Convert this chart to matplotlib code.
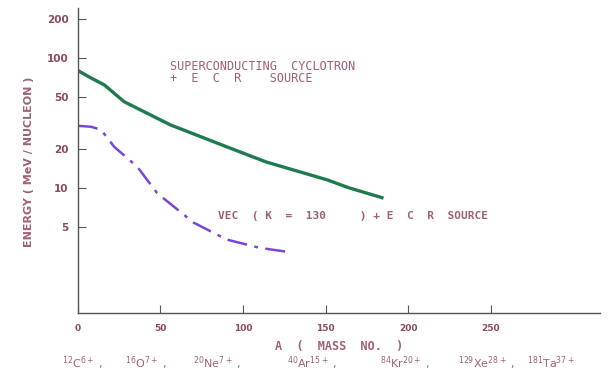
import matplotlib
matplotlib.use('Agg')
import matplotlib.pyplot as plt
from matplotlib.ticker import FixedLocator, NullLocator

# Superconducting cyclotron + ECR source
sc_mass = [0, 8, 16, 28, 56, 90, 114, 151, 164, 184]
sc_energy = [80, 70, 62, 46, 30.5, 20.7, 15.8, 11.5, 10.0, 8.4]

# VEC (K = 130) + ECR source
vec_mass = [0, 8, 14, 22, 36, 48, 70, 90, 110, 128]
vec_energy = [30, 29.5, 28, 20.7, 14.5, 9.1, 5.4, 4.0, 3.45, 3.2]

x_ticks = [0, 50, 100, 150, 200, 250]
y_ticks = [5, 10, 20, 50, 100, 200]

# ions shown under the axis
ions = [r'$^{12}$C$^{6+}$', r'$^{16}$O$^{7+}$', r'$^{20}$Ne$^{7+}$',
        r'$^{40}$Ar$^{15+}$', r'$^{84}$Kr$^{20+}$', r'$^{129}$Xe$^{28+}$',
        r'$^{181}$Ta$^{37+}$']
ion_x = [62, 125, 193, 287, 380, 458, 527]   # pixel start of each label

text_col = '#a0607a'
tick_col = '#8a4a62'
W, H = 608, 382

fig = plt.figure(figsize=(W / 100, H / 100), dpi=100)
ax = fig.add_axes([0.128, 0.181, 0.859, 0.798])

ax.plot(sc_mass, sc_energy, color='#1f7a4d', linewidth=2.4)
ax.plot(vec_mass, vec_energy, color='#7b45d6', linewidth=1.8,
        linestyle=(0, (8, 3, 1.5, 3)))

ax.set_yscale('log')
ax.set_xlim(0, 316)
ax.set_ylim(1.09, 242)
ax.yaxis.set_major_locator(FixedLocator(y_ticks))
ax.yaxis.set_minor_locator(NullLocator())
ax.set_yticklabels([str(v) for v in y_ticks])
ax.set_xticks(x_ticks)

for s in ['top', 'right']:
    ax.spines[s].set_visible(False)
for s in ['left', 'bottom']:
    ax.spines[s].set_color('#555555')
    ax.spines[s].set_linewidth(1.0)

ax.tick_params(axis='both', direction='in', length=6, color='#555555',
               labelcolor=tick_col)
ax.tick_params(axis='x', pad=8, labelsize=6.5)
ax.tick_params(axis='y', pad=6.5, labelsize=7.5)
for lab in ax.get_xticklabels() + ax.get_yticklabels():
    lab.set_fontweight('bold')

ax.set_ylabel('ENERGY ( MeV / NUCLEON )', fontsize=8, color=text_col,
              fontweight='bold')
ax.yaxis.set_label_coords(-0.083, 0.495)
ax.set_xlabel('A  (  MASS  NO.  )', fontsize=8.5, color=text_col,
              fontweight='bold', family='DejaVu Sans Mono', labelpad=5)

ax.text(170 / W, 1 - 66 / H, 'SUPERCONDUCTING  CYCLOTRON',
        transform=fig.transFigure, fontsize=8.5, color=text_col,
        family='DejaVu Sans Mono', va='center')
ax.text(170 / W, 1 - 78 / H, '+  E  C  R    SOURCE',
        transform=fig.transFigure, fontsize=8.5, color=text_col,
        family='DejaVu Sans Mono', va='center')
ax.text(218 / W, 1 - 216 / H, 'VEC  ( K  =  130     ) + E  C  R  SOURCE',
        transform=fig.transFigure, fontsize=8, color=text_col,
        family='DejaVu Sans Mono', fontweight='bold', va='center')

for i, (lab, x) in enumerate(zip(ions, ion_x)):
    s = lab + ' ,' if i < len(ions) - 1 else lab
    fig.text(x / W, 1 - 363 / H, s, fontsize=8, color=text_col,
             ha='left', va='center')

fig.savefig('out.png', dpi=100)
